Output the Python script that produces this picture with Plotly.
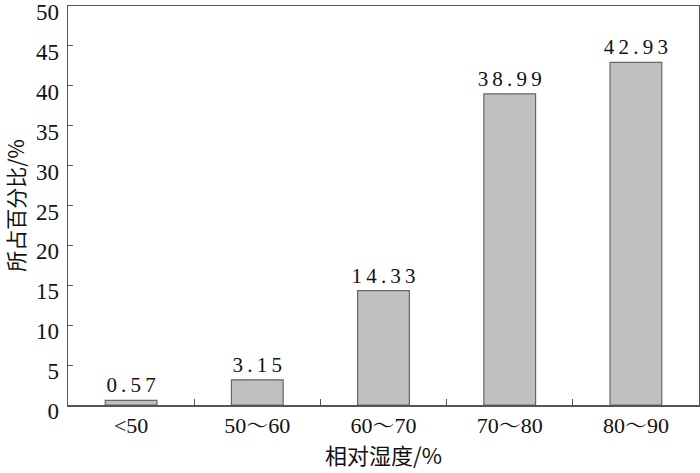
import plotly.graph_objects as go

categories = ["<50", "50～60", "60～70", "70～80", "80～90"]
values = [0.57, 3.15, 14.33, 38.99, 42.93]
value_labels = ["0.57", "3.15", "14.33", "38.99", "42.93"]
y_ticks = [0, 5, 10, 15, 20, 25, 30, 35, 40, 45, 50]

serif = "Liberation Serif, Times New Roman, Noto Serif CJK SC, Noto Sans CJK SC, serif"
spaced = ["\u2009".join(list(s)) for s in value_labels]

fig = go.Figure(go.Bar(
    x=categories, y=values,
    text=spaced, textposition="outside", constraintext="none",
    textfont=dict(family=serif, size=21, color="#111"),
    marker=dict(color="#c0c0c0", line=dict(color="#666666", width=1.2)),
    width=0.41, cliponaxis=False, hoverinfo="skip",
))

fig.update_layout(
    width=700, height=473,
    margin=dict(l=68, r=1, t=6, b=68, autoexpand=False),
    plot_bgcolor="white", paper_bgcolor="white",
    showlegend=False, uniformtext=dict(mode=False),
    font=dict(family=serif, size=20, color="#111"),
)
fig.update_xaxes(
    type="category", tickson="boundaries", ticks="inside", ticklen=6,
    tickcolor="#555", showline=True, linecolor="#555", linewidth=1.5, mirror=True,
    showgrid=False, tickfont=dict(family=serif, size=22), automargin=False,
    title=dict(text="相对湿度/%", font=dict(family="Noto Sans CJK SC", size=22), standoff=9),
)
fig.update_yaxes(
    range=[0, 50], tickvals=y_ticks, ticks="inside", ticklen=5, tickcolor="#555",
    showline=True, linecolor="#555", linewidth=1.5, mirror=True, ticklabeloverflow="allow",
    ticklabelshift=6, ticklabelstandoff=3,
    showgrid=False, zeroline=False, tickfont=dict(family=serif, size=23), automargin=False,
    title=dict(text="所占百分比/%", font=dict(family="Noto Sans CJK SC", size=21), standoff=16),
)

fig.write_html("out.html", config={"displayModeBar": False, "staticPlot": True},
               post_script="document.body.style.margin='0';document.body.style.overflow='hidden';")
